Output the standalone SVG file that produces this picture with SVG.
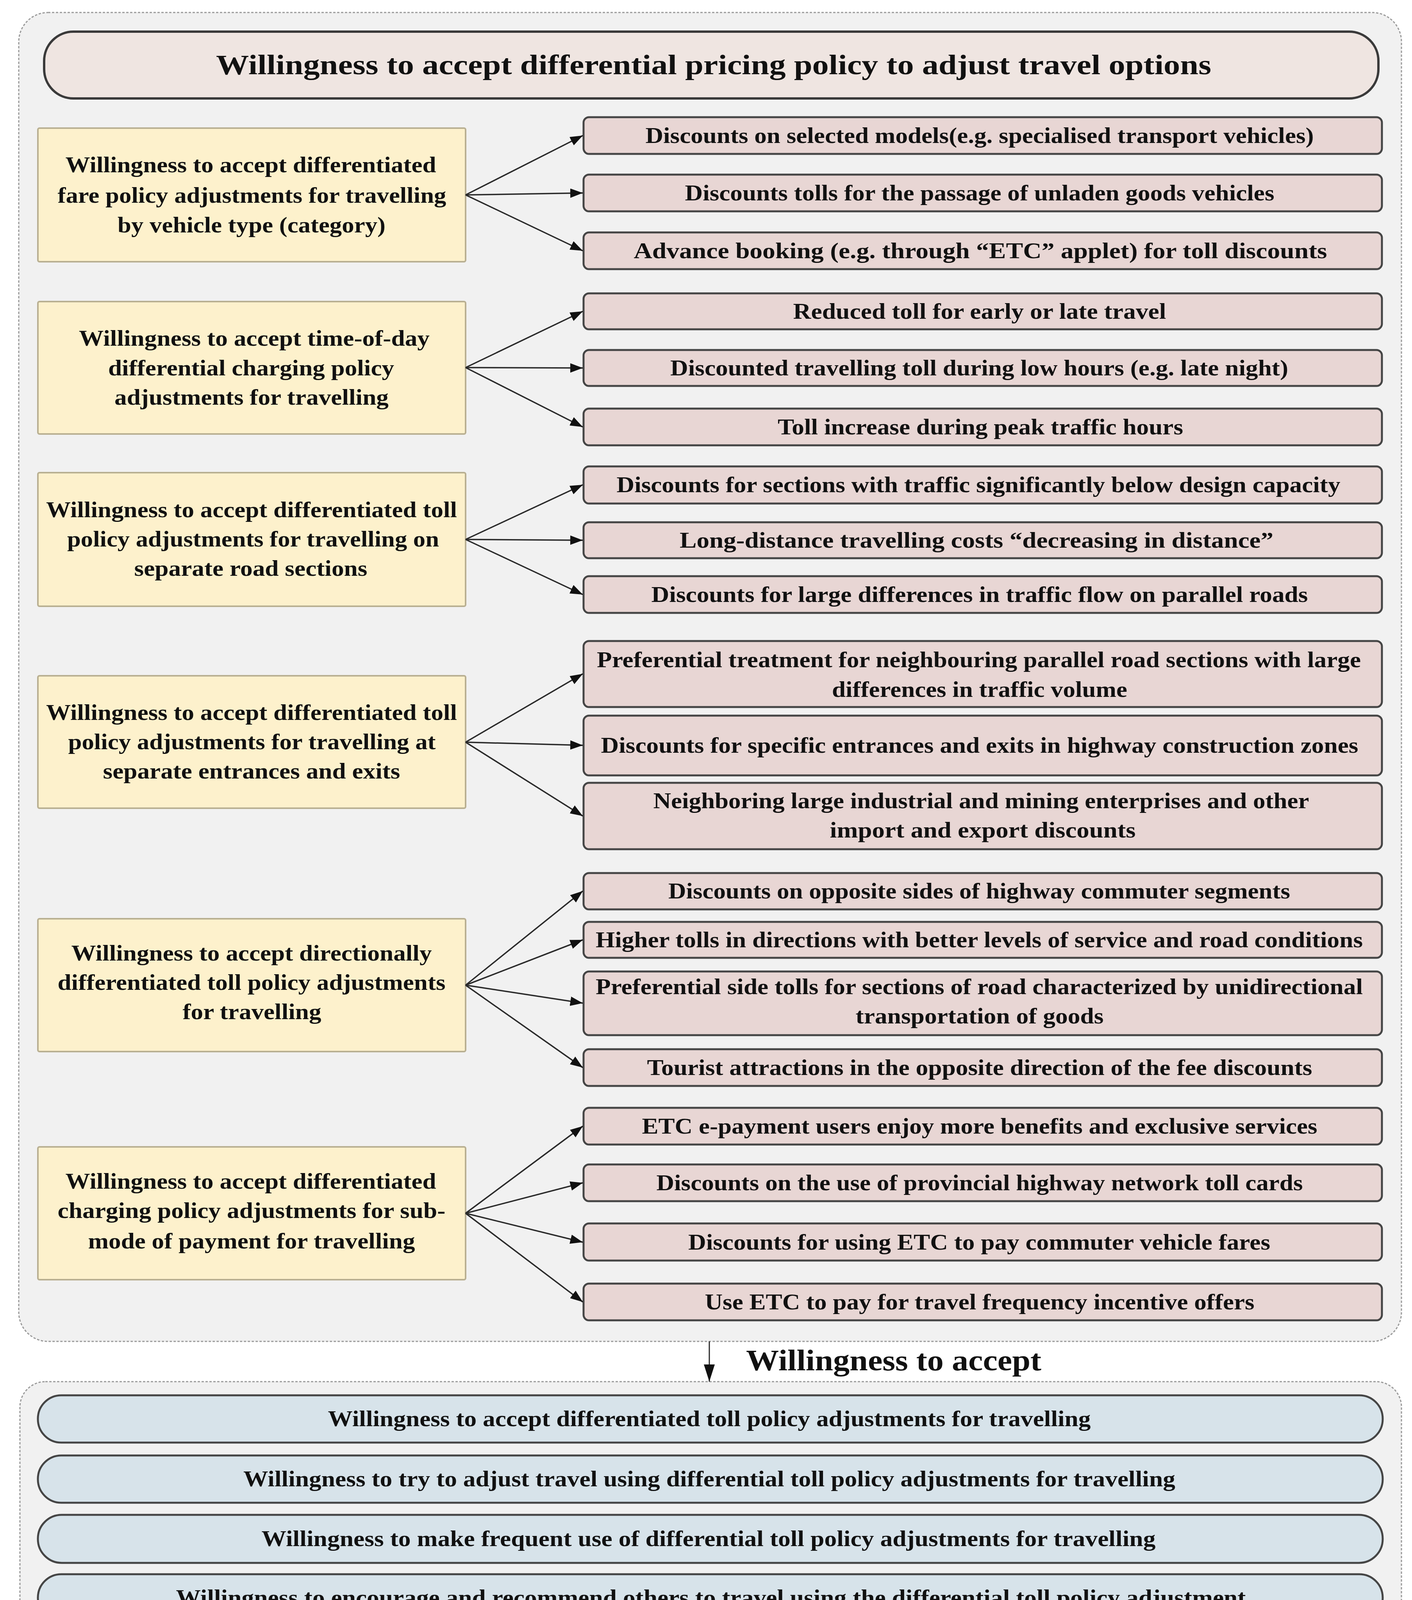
<svg xmlns="http://www.w3.org/2000/svg" width="3615" height="4227" viewBox="0 0 3615 4227">
<style>
.t{font-family:"Liberation Serif","Times New Roman",serif;font-weight:bold;fill:#111;text-anchor:middle}
.f56{font-size:56px}
.cont{fill:#f1f1f1;stroke:#9a9a9a;stroke-width:3;stroke-dasharray:6 4}
.title{fill:#efe5e1;stroke:#3a3a3a;stroke-width:6}
.yel{fill:#fdf1cc;stroke:#b9b092;stroke-width:4}
.pink{fill:#e8d6d4;stroke:#454545;stroke-width:5}
.blue{fill:#d7e3ea;stroke:#454545;stroke-width:5}
.c{stroke:#2a2a2a;stroke-width:3.5;fill:none;marker-end:url(#ah)}
</style>
<defs>
<marker id="ah" markerUnits="userSpaceOnUse" markerWidth="32" markerHeight="24" refX="32" refY="12" orient="auto">
<path d="M0,0 L32,12 L0,24 Z" fill="#111"/>
</marker>
<marker id="ah2" markerUnits="userSpaceOnUse" markerWidth="44" markerHeight="28" refX="44" refY="14" orient="auto">
<path d="M0,0 L44,14 L0,28 Z" fill="#111"/>
</marker>
</defs>
<rect width="3615" height="4227" fill="#ffffff"/>

<g id="container-top"><rect class="cont" x="48" y="32" width="3540" height="3402" rx="75"/></g>
<g id="container-bottom"><rect class="cont" x="51" y="3537" width="3537" height="653" rx="65"/></g>

<g id="title"><rect class="title" x="113" y="81" width="3416" height="171" rx="75"/>
<text class="t" x="1827" y="190" font-size="72" textLength="2548" lengthAdjust="spacingAndGlyphs">Willingness to accept differential pricing policy to adjust travel options</text></g>

<g id="y1"><rect class="yel" x="97" y="328" width="1095" height="342" rx="4"/>
<text class="t f56" x="642" y="441" textLength="949" lengthAdjust="spacingAndGlyphs">Willingness to accept differentiated</text>
<text class="t f56" x="645" y="519" textLength="995" lengthAdjust="spacingAndGlyphs">fare policy adjustments for travelling</text>
<text class="t f56" x="644" y="595" textLength="686" lengthAdjust="spacingAndGlyphs">by vehicle type (category)</text></g>

<g id="y2"><rect class="yel" x="97" y="772" width="1095" height="339" rx="4"/>
<text class="t f56" x="651" y="885" textLength="898" lengthAdjust="spacingAndGlyphs">Willingness to accept time-of-day</text>
<text class="t f56" x="643" y="961" textLength="732" lengthAdjust="spacingAndGlyphs">differential charging policy</text>
<text class="t f56" x="644" y="1036" textLength="702" lengthAdjust="spacingAndGlyphs">adjustments for travelling</text></g>

<g id="y3"><rect class="yel" x="97" y="1210" width="1095" height="342" rx="4"/>
<text class="t f56" x="644" y="1324" textLength="1052" lengthAdjust="spacingAndGlyphs">Willingness to accept differentiated toll</text>
<text class="t f56" x="648" y="1399" textLength="952" lengthAdjust="spacingAndGlyphs">policy adjustments for travelling on</text>
<text class="t f56" x="642" y="1474" textLength="597" lengthAdjust="spacingAndGlyphs">separate road sections</text></g>

<g id="y4"><rect class="yel" x="97" y="1730" width="1095" height="339" rx="4"/>
<text class="t f56" x="644" y="1843" textLength="1052" lengthAdjust="spacingAndGlyphs">Willingness to accept differentiated toll</text>
<text class="t f56" x="645" y="1918" textLength="941" lengthAdjust="spacingAndGlyphs">policy adjustments for travelling at</text>
<text class="t f56" x="644" y="1993" textLength="761" lengthAdjust="spacingAndGlyphs">separate entrances and exits</text></g>

<g id="y5"><rect class="yel" x="97" y="2352" width="1095" height="340" rx="4"/>
<text class="t f56" x="644" y="2459" textLength="923" lengthAdjust="spacingAndGlyphs">Willingness to accept directionally</text>
<text class="t f56" x="644" y="2534" textLength="993" lengthAdjust="spacingAndGlyphs">differentiated toll policy adjustments</text>
<text class="t f56" x="645" y="2609" textLength="355" lengthAdjust="spacingAndGlyphs">for travelling</text></g>

<g id="y6"><rect class="yel" x="97" y="2936" width="1095" height="340" rx="4"/>
<text class="t f56" x="642" y="3043" textLength="949" lengthAdjust="spacingAndGlyphs">Willingness to accept differentiated</text>
<text class="t f56" x="644" y="3118" textLength="993" lengthAdjust="spacingAndGlyphs">charging policy adjustments for sub-</text>
<text class="t f56" x="644" y="3196" textLength="837" lengthAdjust="spacingAndGlyphs">mode of payment for travelling</text></g>

<g id="p1"><rect class="pink" x="1494" y="300" width="2044" height="94" rx="14"/>
<text class="t f56" x="2508" y="366" textLength="1711" lengthAdjust="spacingAndGlyphs">Discounts on selected models(e.g. specialised transport vehicles)</text></g>
<g id="p2"><rect class="pink" x="1494" y="447" width="2044" height="94" rx="14"/>
<text class="t f56" x="2508" y="513" textLength="1509" lengthAdjust="spacingAndGlyphs">Discounts tolls for the passage of unladen goods vehicles</text></g>
<g id="p3"><rect class="pink" x="1494" y="595" width="2044" height="94" rx="14"/>
<text class="t f56" x="2510" y="661" textLength="1775" lengthAdjust="spacingAndGlyphs">Advance booking (e.g. through  “ETC” applet) for toll discounts</text></g>
<g id="p4"><rect class="pink" x="1494" y="751" width="2044" height="92" rx="14"/>
<text class="t f56" x="2508" y="816" textLength="955" lengthAdjust="spacingAndGlyphs">Reduced toll for early or late travel</text></g>
<g id="p5"><rect class="pink" x="1494" y="896" width="2044" height="92" rx="14"/>
<text class="t f56" x="2507" y="961" textLength="1582" lengthAdjust="spacingAndGlyphs">Discounted travelling toll during low hours (e.g. late night)</text></g>
<g id="p6"><rect class="pink" x="1494" y="1046" width="2044" height="94" rx="14"/>
<text class="t f56" x="2510" y="1112" textLength="1038" lengthAdjust="spacingAndGlyphs">Toll increase during peak traffic hours</text></g>
<g id="p7"><rect class="pink" x="1494" y="1194" width="2044" height="95" rx="14"/>
<text class="t f56" x="2505" y="1260" textLength="1853" lengthAdjust="spacingAndGlyphs">Discounts for sections with traffic significantly below design capacity</text></g>
<g id="p8"><rect class="pink" x="1494" y="1337" width="2044" height="92" rx="14"/>
<text class="t f56" x="2500" y="1402" textLength="1520" lengthAdjust="spacingAndGlyphs">Long-distance travelling costs “decreasing in distance”</text></g>
<g id="p9"><rect class="pink" x="1494" y="1475" width="2044" height="94" rx="14"/>
<text class="t f56" x="2508" y="1541" textLength="1681" lengthAdjust="spacingAndGlyphs">Discounts for large differences in traffic flow on parallel roads</text></g>
<g id="p10"><rect class="pink" x="1494" y="1641" width="2044" height="169" rx="14"/>
<text class="t f56" x="2506" y="1708" textLength="1956" lengthAdjust="spacingAndGlyphs">Preferential treatment for neighbouring parallel road sections with large</text>
<text class="t f56" x="2508" y="1784" textLength="756" lengthAdjust="spacingAndGlyphs">differences in traffic volume</text></g>
<g id="p11"><rect class="pink" x="1494" y="1832" width="2044" height="153" rx="14"/>
<text class="t f56" x="2508" y="1927" textLength="1939" lengthAdjust="spacingAndGlyphs">Discounts for specific entrances and exits in highway construction zones</text></g>
<g id="p12"><rect class="pink" x="1494" y="2004" width="2044" height="170" rx="14"/>
<text class="t f56" x="2512" y="2069" textLength="1679" lengthAdjust="spacingAndGlyphs">Neighboring large industrial and mining enterprises and other</text>
<text class="t f56" x="2516" y="2144" textLength="783" lengthAdjust="spacingAndGlyphs">import and export  discounts</text></g>
<g id="p13"><rect class="pink" x="1494" y="2235" width="2044" height="93" rx="14"/>
<text class="t f56" x="2507" y="2300" textLength="1592" lengthAdjust="spacingAndGlyphs">Discounts on opposite sides of highway commuter segments</text></g>
<g id="p14"><rect class="pink" x="1494" y="2360" width="2044" height="92" rx="14"/>
<text class="t f56" x="2507" y="2425" textLength="1964" lengthAdjust="spacingAndGlyphs">Higher tolls in directions with better levels of service and road conditions</text></g>
<g id="p15"><rect class="pink" x="1494" y="2487" width="2044" height="163" rx="14"/>
<text class="t f56" x="2507" y="2545" textLength="1964" lengthAdjust="spacingAndGlyphs">Preferential side tolls for sections of road characterized by unidirectional</text>
<text class="t f56" x="2508" y="2620" textLength="635" lengthAdjust="spacingAndGlyphs">transportation of goods</text></g>
<g id="p16"><rect class="pink" x="1494" y="2686" width="2044" height="94" rx="14"/>
<text class="t f56" x="2508" y="2752" textLength="1703" lengthAdjust="spacingAndGlyphs">Tourist attractions in the opposite direction of the fee discounts</text></g>
<g id="p17"><rect class="pink" x="1494" y="2836" width="2044" height="94" rx="14"/>
<text class="t f56" x="2508" y="2902" textLength="1729" lengthAdjust="spacingAndGlyphs">ETC e-payment users enjoy more benefits and exclusive services</text></g>
<g id="p18"><rect class="pink" x="1494" y="2981" width="2044" height="94" rx="14"/>
<text class="t f56" x="2508" y="3047" textLength="1655" lengthAdjust="spacingAndGlyphs">Discounts on the use of provincial highway network toll cards</text></g>
<g id="p19"><rect class="pink" x="1494" y="3132" width="2044" height="95" rx="14"/>
<text class="t f56" x="2507" y="3199" textLength="1490" lengthAdjust="spacingAndGlyphs">Discounts for using ETC to pay commuter vehicle fares</text></g>
<g id="p20"><rect class="pink" x="1494" y="3286" width="2044" height="94" rx="14"/>
<text class="t f56" x="2508" y="3352" textLength="1407" lengthAdjust="spacingAndGlyphs">Use ETC to pay for travel frequency incentive offers</text></g>

<g id="accept-label"><text class="t" x="2288" y="3508" font-size="76" textLength="756" lengthAdjust="spacingAndGlyphs">Willingness to accept</text></g>

<g id="b1"><rect class="blue" x="97" y="3572" width="3443" height="121" rx="60"/>
<text class="t f56" x="1816" y="3651" textLength="1953" lengthAdjust="spacingAndGlyphs">Willingness to accept differentiated toll policy adjustments for travelling</text></g>
<g id="b2"><rect class="blue" x="97" y="3726" width="3443" height="121" rx="60"/>
<text class="t f56" x="1816" y="3805" textLength="2386" lengthAdjust="spacingAndGlyphs">Willingness to try to adjust travel using differential toll policy adjustments for travelling</text></g>
<g id="b3"><rect class="blue" x="97" y="3878" width="3443" height="123" rx="61"/>
<text class="t f56" x="1814" y="3958" textLength="2289" lengthAdjust="spacingAndGlyphs">Willingness to make frequent use of differential toll policy adjustments for travelling</text></g>
<g id="b4"><rect class="blue" x="97" y="4030" width="3443" height="121" rx="60"/>
<text class="t f56" x="1820" y="4109" textLength="2739" lengthAdjust="spacingAndGlyphs">Willingness to encourage and recommend others to travel using the differential toll policy adjustment</text></g>

<g id="connectors">
<line class="c" x1="1192" y1="499" x2="1492" y2="347"/>
<line class="c" x1="1192" y1="499" x2="1492" y2="494"/>
<line class="c" x1="1192" y1="499" x2="1492" y2="642"/>
<line class="c" x1="1192" y1="941" x2="1492" y2="797"/>
<line class="c" x1="1192" y1="941" x2="1492" y2="942"/>
<line class="c" x1="1192" y1="941" x2="1492" y2="1093"/>
<line class="c" x1="1192" y1="1381" x2="1492" y2="1241"/>
<line class="c" x1="1192" y1="1381" x2="1492" y2="1383"/>
<line class="c" x1="1192" y1="1381" x2="1492" y2="1522"/>
<line class="c" x1="1192" y1="1900" x2="1492" y2="1725"/>
<line class="c" x1="1192" y1="1900" x2="1492" y2="1908"/>
<line class="c" x1="1192" y1="1900" x2="1492" y2="2089"/>
<line class="c" x1="1192" y1="2522" x2="1492" y2="2281"/>
<line class="c" x1="1192" y1="2522" x2="1492" y2="2406"/>
<line class="c" x1="1192" y1="2522" x2="1492" y2="2568"/>
<line class="c" x1="1192" y1="2522" x2="1492" y2="2733"/>
<line class="c" x1="1192" y1="3106" x2="1492" y2="2883"/>
<line class="c" x1="1192" y1="3106" x2="1492" y2="3028"/>
<line class="c" x1="1192" y1="3106" x2="1492" y2="3180"/>
<line class="c" x1="1192" y1="3106" x2="1492" y2="3333"/>
<line x1="1816" y1="3434" x2="1816" y2="3537" stroke="#2a2a2a" stroke-width="3" marker-end="url(#ah2)"/>
</g>
</svg>
